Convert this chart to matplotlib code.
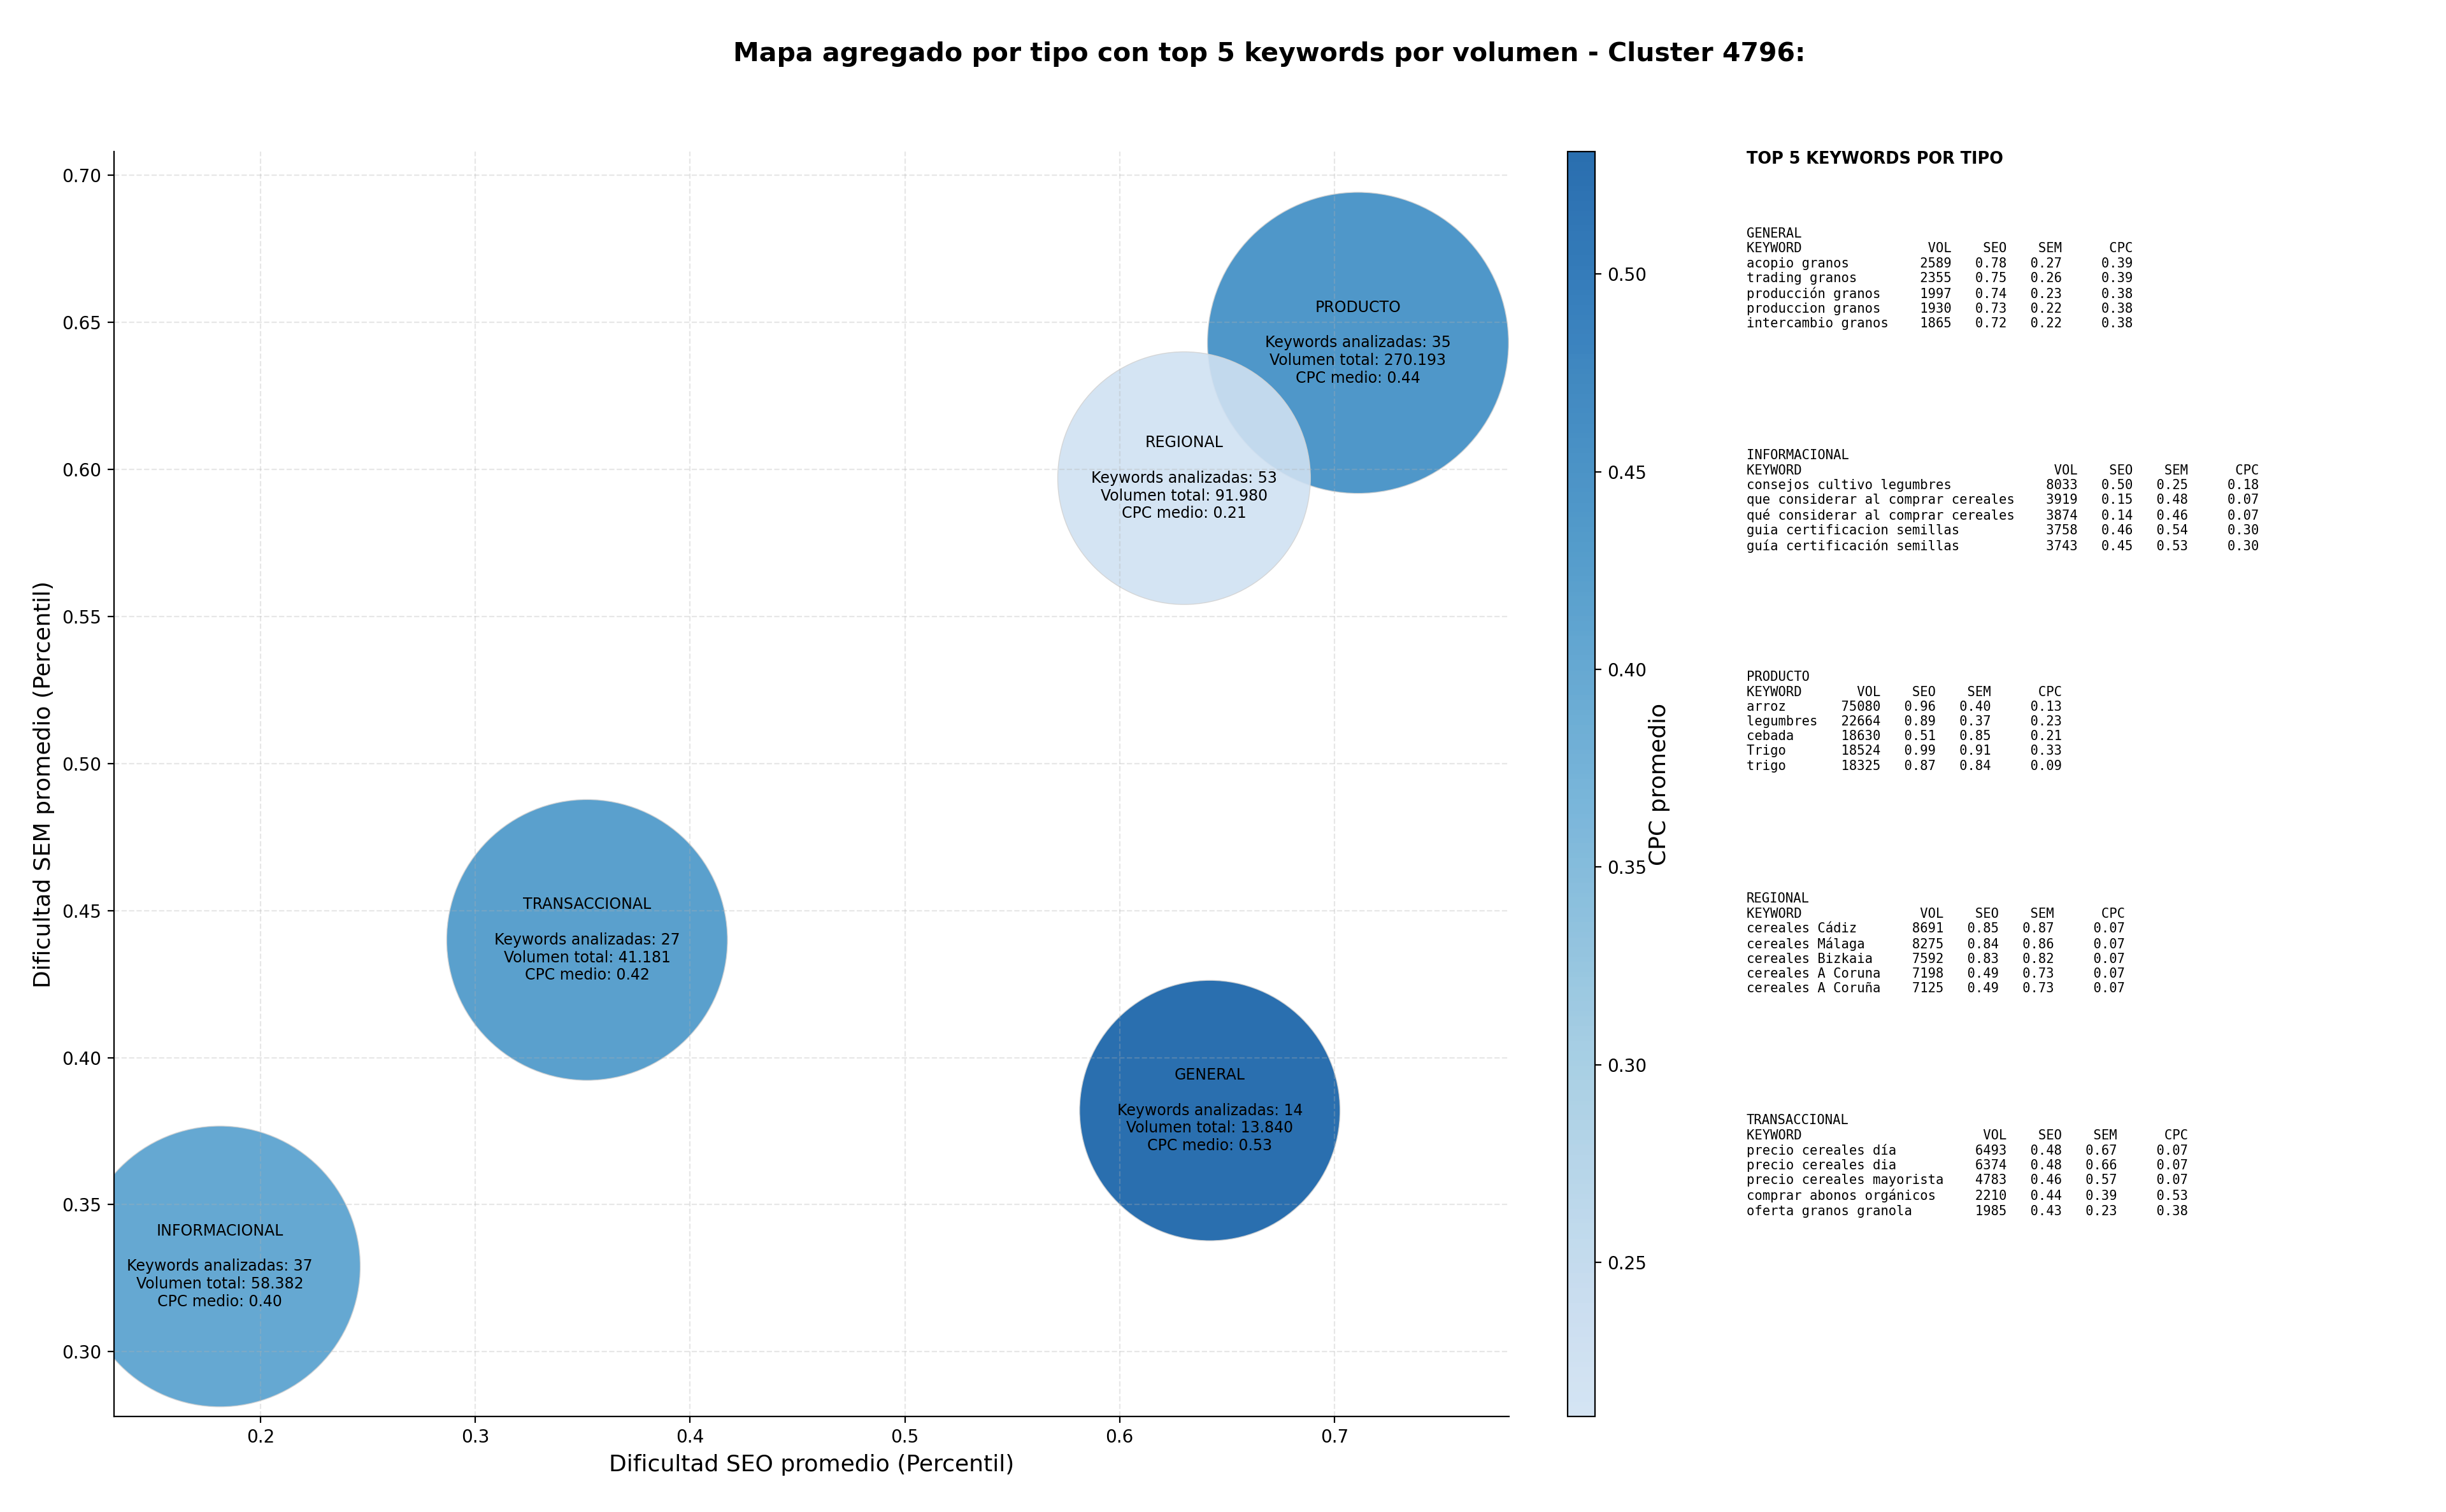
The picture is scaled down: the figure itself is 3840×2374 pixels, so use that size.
import numpy as np
import matplotlib
matplotlib.use("Agg")
import matplotlib.pyplot as plt
from matplotlib.colors import LinearSegmentedColormap, Normalize

# aggregated values per keyword type
types = ["GENERAL", "INFORMACIONAL", "PRODUCTO", "REGIONAL", "TRANSACCIONAL"]
seo_avg = [0.642, 0.181, 0.711, 0.630, 0.352]
sem_avg = [0.382, 0.329, 0.643, 0.597, 0.440]
cpc_avg = [0.531, 0.40, 0.44, 0.211, 0.42]
n_keywords = [14, 37, 35, 53, 27]
vol_total = [13840, 58382, 270193, 91980, 41181]

# top 5 keywords per type: (keyword, vol, seo, sem, cpc)
top_general = [
    ("acopio granos", 2589, 0.78, 0.27, 0.39),
    ("trading granos", 2355, 0.75, 0.26, 0.39),
    ("producción granos", 1997, 0.74, 0.23, 0.38),
    ("produccion granos", 1930, 0.73, 0.22, 0.38),
    ("intercambio granos", 1865, 0.72, 0.22, 0.38),
]
top_informacional = [
    ("consejos cultivo legumbres", 8033, 0.50, 0.25, 0.18),
    ("que considerar al comprar cereales", 3919, 0.15, 0.48, 0.07),
    ("qué considerar al comprar cereales", 3874, 0.14, 0.46, 0.07),
    ("guia certificacion semillas", 3758, 0.46, 0.54, 0.30),
    ("guía certificación semillas", 3743, 0.45, 0.53, 0.30),
]
top_producto = [
    ("arroz", 75080, 0.96, 0.40, 0.13),
    ("legumbres", 22664, 0.89, 0.37, 0.23),
    ("cebada", 18630, 0.51, 0.85, 0.21),
    ("Trigo", 18524, 0.99, 0.91, 0.33),
    ("trigo", 18325, 0.87, 0.84, 0.09),
]
top_regional = [
    ("cereales Cádiz", 8691, 0.85, 0.87, 0.07),
    ("cereales Málaga", 8275, 0.84, 0.86, 0.07),
    ("cereales Bizkaia", 7592, 0.83, 0.82, 0.07),
    ("cereales A Coruna", 7198, 0.49, 0.73, 0.07),
    ("cereales A Coruña", 7125, 0.49, 0.73, 0.07),
]
top_transaccional = [
    ("precio cereales día", 6493, 0.48, 0.67, 0.07),
    ("precio cereales dia", 6374, 0.48, 0.66, 0.07),
    ("precio cereales mayorista", 4783, 0.46, 0.57, 0.07),
    ("comprar abonos orgánicos", 2210, 0.44, 0.39, 0.53),
    ("oferta granos granola", 1985, 0.43, 0.23, 0.38),
]
top_by_type = [top_general, top_informacional, top_producto, top_regional, top_transaccional]

# bubble areas (pt^2)
bubble_area = [21670, 25190, 28970, 20390, 25190]

cmap = LinearSegmentedColormap.from_list("blues_cut", plt.cm.Blues(np.linspace(0.2, 0.82, 256)))
norm = Normalize(vmin=min(cpc_avg), vmax=max(cpc_avg))

fig = plt.figure(figsize=(19.2, 11.87), dpi=200)
ax = fig.add_axes([0.0466, 0.0632, 0.5704, 0.8365])
cax = fig.add_axes([0.641, 0.0632, 0.011, 0.8365])

sc = ax.scatter(seo_avg, sem_avg, s=bubble_area, c=cpc_avg, cmap=cmap, norm=norm,
                alpha=0.9, edgecolors="lightgrey", linewidths=0.5)

for i, t in enumerate(types):
    vol_str = "{:,}".format(vol_total[i]).replace(",", ".")
    label = "{0}\n\nKeywords analizadas: {1}\nVolumen total: {2}\nCPC medio: {3:.2f}".format(
        t, n_keywords[i], vol_str, cpc_avg[i])
    ax.text(seo_avg[i], sem_avg[i], label, ha="center", va="center", fontsize=8.5,
            multialignment="center", zorder=5)

ax.set_xlim(0.1317, 0.7814)
ax.set_ylim(0.278, 0.708)
ax.set_xlabel("Dificultad SEO promedio (Percentil)", fontsize=13)
ax.set_ylabel("Dificultad SEM promedio (Percentil)", fontsize=13)
ax.grid(True, linestyle="--", alpha=0.3)
ax.spines["top"].set_visible(False)
ax.spines["right"].set_visible(False)

cb = fig.colorbar(sc, cax=cax)
cb.set_label("CPC promedio", fontsize=13, labelpad=1)

fig.text(0.519, 0.964, "Mapa agregado por tipo con top 5 keywords por volumen - Cluster 4796:",
         ha="center", va="center", fontsize=14.75, fontweight="bold")

# side panel with top keywords
fig.text(0.714, 0.8947, "TOP 5 KEYWORDS POR TIPO", ha="left", va="center",
         fontsize=9.2, fontweight="bold")
y0 = 0.8495
step = 0.1466
for i, t in enumerate(types):
    rows = top_by_type[i]
    w = max(7, max(len(r[0]) for r in rows))
    lines = [t, "{0:<{w}}  {1:>6} {2:>6} {3:>6} {4:>8}".format("KEYWORD", "VOL", "SEO", "SEM", "CPC", w=w)]
    for kw, vol, seo, sem, cpc in rows:
        lines.append("{0:<{w}}  {1:>6} {2:>6.2f} {3:>6.2f} {4:>8.2f}".format(kw, vol, seo, sem, cpc, w=w))
    fig.text(0.714, y0 - i * step, "\n".join(lines), ha="left", va="top",
             fontsize=7.4, family="DejaVu Sans Mono")

fig.savefig("out.png", dpi=200)
